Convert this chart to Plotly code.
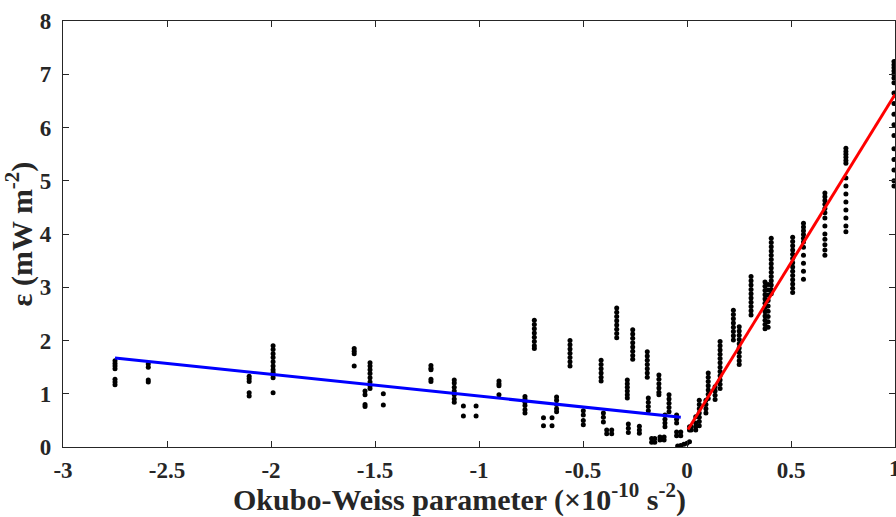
import plotly.graph_objects as go

# Okubo-Weiss parameter columns (x 1e-10 s^-2) and dissipation values (mW m^-2)
ow_x = [-2.75, -2.59, -2.105, -1.99, -1.60, -1.524, -1.548, -1.46, -1.231, -1.119,
        -1.075, -1.014, -0.904, -0.779, -0.734, -0.69, -0.649, -0.627, -0.5625, -0.4985,
        -0.413, -0.402, -0.386, -0.362, -0.338, -0.287, -0.282, -0.261, -0.229, -0.191,
        -0.186, -0.17, -0.155, -0.13, -0.11, -0.135, -0.106, -0.0865, -0.05, -0.03,
        -0.045, -0.015, 0.0, 0.012,
        0.02, 0.042, 0.059, 0.091, 0.102, 0.135, 0.159, 0.223, 0.251, 0.308,
        0.375, 0.39, 0.405, 0.508, 0.56, 0.663, 0.764, 0.995]

eps_cols = [
    [1.62, 1.57, 1.52, 1.47, 1.27, 1.22, 1.17],
    [1.56, 1.50, 1.26, 1.22],
    [1.33, 1.28, 1.23, 1.02, 0.96],
    [1.90, 1.83, 1.75, 1.68, 1.60, 1.52, 1.45, 1.40, 1.35, 1.30, 1.02],
    [1.85, 1.80, 1.75, 1.52],
    [1.58, 1.52, 1.45, 1.38, 1.30, 1.22, 1.15, 1.10],
    [1.05, 0.98, 0.80, 0.76],
    [1.00, 0.79],
    [1.53, 1.48, 1.45, 1.27, 1.23],
    [1.26, 1.20, 1.12, 1.05, 0.98, 0.90, 0.84],
    [0.77, 0.58],
    [0.77, 0.58],
    [1.24, 1.19, 1.15, 0.98],
    [0.95, 0.90, 0.84, 0.78, 0.70, 0.64],
    [2.38, 2.30, 2.22, 2.14, 2.06, 1.98, 1.90, 1.85],
    [0.55, 0.40],
    [0.55, 0.40],
    [0.94, 0.88, 0.80, 0.72, 0.66],
    [2.00, 1.92, 1.84, 1.76, 1.68, 1.60, 1.52],
    [0.68, 0.60, 0.50, 0.42],
    [1.63, 1.55, 1.47, 1.39, 1.31, 1.24],
    [0.64, 0.56, 0.47],
    [0.32, 0.25],
    [0.32, 0.25],
    [2.61, 2.53, 2.45, 2.37, 2.29, 2.21, 2.13, 2.05],
    [1.26, 1.19, 1.12, 1.05, 0.98, 0.92],
    [0.43, 0.35, 0.27],
    [2.20, 2.12, 2.04, 1.96, 1.88, 1.80, 1.72, 1.65],
    [0.39, 0.32, 0.26],
    [1.79, 1.71, 1.63, 1.55, 1.47, 1.39, 1.31],
    [0.92, 0.84, 0.76, 0.68],
    [0.16, 0.09],
    [0.16, 0.09],
    [0.19, 0.13],
    [0.19, 0.13],
    [1.35, 1.27, 1.19, 1.11, 1.03, 0.98],
    [0.60, 0.52, 0.45, 0.38],
    [0.98, 0.90, 0.82, 0.74, 0.66],
    [0.60, 0.52, 0.45, 0.28, 0.21],
    [0.28, 0.21, 0.03],
    [0.02],
    [0.05],
    [0.07],
    [0.10, 0.38, 0.32],
    [0.38, 0.32],
    [0.57, 0.45, 0.38, 0.32],
    [0.88, 0.80, 0.72, 0.64, 0.56, 0.48, 0.40],
    [0.88, 0.80, 0.72, 0.64],
    [1.39, 1.31, 1.23, 1.15, 1.07, 0.99, 0.91],
    [1.13, 1.05, 0.97, 0.89],
    [1.98, 1.90, 1.82, 1.74, 1.66, 1.58, 1.50, 1.42, 1.34, 1.26, 1.18, 1.10],
    [2.57, 2.49, 2.41, 2.33, 2.25, 2.17, 2.09, 2.01],
    [2.26, 2.18, 2.10, 2.02, 1.94, 1.86, 1.78, 1.70, 1.62, 1.55],
    [3.20, 3.12, 3.04, 2.96, 2.88, 2.80, 2.72, 2.64, 2.56, 2.48],
    [3.10, 3.02, 2.94, 2.86, 2.78, 2.70, 2.62, 2.54, 2.46, 2.38, 2.30, 2.22],
    [3.05, 2.95, 2.85, 2.75, 2.65, 2.55, 2.45, 2.35, 2.25],
    [3.92, 3.84, 3.76, 3.68, 3.60, 3.52, 3.44, 3.36, 3.28, 3.20, 3.12, 3.04, 2.96, 2.88],
    [3.94, 3.86, 3.78, 3.70, 3.62, 3.54, 3.46, 3.38, 3.30, 3.22, 3.14, 3.06, 2.98, 2.90],
    [4.20, 4.13, 4.06, 3.99, 3.92, 3.85, 3.75, 3.60, 3.45, 3.30, 3.15],
    [4.77, 4.70, 4.63, 4.56, 4.48, 4.40, 4.30, 4.15, 4.00, 3.90, 3.80, 3.70, 3.60],
    [5.61, 5.55, 5.50, 5.44, 5.38, 5.33, 5.05, 4.90, 4.75, 4.60, 4.45, 4.30, 4.15, 4.04],
    [7.24, 7.18, 7.12, 7.06, 7.00, 6.93, 6.84, 6.65, 6.45, 6.25, 6.05, 5.85, 5.60,
     5.40, 5.20, 5.00, 4.90],
]

# Linear fits
neg_fit_x = [-2.75, -0.03]
neg_fit_y = [1.67, 0.56]
pos_fit_x = [0.005, 1.0]
pos_fit_y = [0.33, 6.62]

x_ticks = [-3, -2.5, -2, -1.5, -1, -0.5, 0, 0.5, 1]
x_tick_text = ["-3", "-2.5", "-2", "-1.5", "-1", "-0.5", "0", "0.5", "1"]
y_ticks = [0, 1, 2, 3, 4, 5, 6, 7, 8]
y_tick_text = ["0", "1", "2", "3", "4", "5", "6", "7", "8"]
x_title = "<b>Okubo-Weiss parameter (×10<sup>-10</sup> s<sup>-2</sup>)</b>"
y_title = "<b>ε (mW m<sup>-2</sup>)</b>"

px, py = [], []
for xv, ys in zip(ow_x, eps_cols):
    for yv in ys:
        px.append(xv)
        py.append(yv)

FONT = "Liberation Serif, Times New Roman, serif"
AX = "#262626"
tick_font = dict(family=FONT, size=23, color=AX, weight="bold")

fig = go.Figure()
fig.add_trace(go.Scatter(x=px, y=py, mode="markers",
                         marker=dict(color="black", size=5, line=dict(width=0)),
                         showlegend=False))
fig.add_trace(go.Scatter(x=neg_fit_x, y=neg_fit_y, mode="lines",
                         line=dict(color="#0000ff", width=3), showlegend=False))
fig.add_trace(go.Scatter(x=pos_fit_x, y=pos_fit_y, mode="lines",
                         line=dict(color="#ff0000", width=3), showlegend=False))

axis_common = dict(showline=True, linecolor=AX, linewidth=1.3, mirror="ticks",
                   ticks="inside", ticklen=6, tickcolor=AX, tickwidth=1.2,
                   showgrid=False, zeroline=False, automargin=False,
                   tickfont=tick_font)

fig.update_layout(
    width=896, height=517,
    margin=dict(l=63, r=1, t=21, b=70),
    plot_bgcolor="white", paper_bgcolor="white",
    xaxis=dict(range=[-3, 1], tickvals=x_ticks, ticktext=x_tick_text,
               ticklabelstandoff=2, **axis_common),
    yaxis=dict(range=[0, 8], tickvals=y_ticks, ticktext=y_tick_text,
               ticklabelstandoff=6,
               title=dict(text=y_title, font=dict(family=FONT, size=30, color=AX), standoff=0),
               **axis_common),
)

# Right-most x tick label (drawn at the very edge, partly cut like the reference)
fig.add_annotation(x=x_ticks[-1], y=0, xref="x", yref="y", text="<b>" + x_tick_text[-1] + "</b>",
                   showarrow=False, xanchor="center", yanchor="middle", yshift=-21,
                   font=tick_font)
# x-axis title
fig.add_annotation(x=0.476, y=-0.119, xref="paper", yref="paper", text=x_title,
                   showarrow=False, xanchor="center", yanchor="middle",
                   font=dict(family=FONT, size=30, color=AX))

fig.write_html("out.html", config={"displayModeBar": False},
               post_script="document.body.style.margin='0';document.body.style.overflow='hidden';")
